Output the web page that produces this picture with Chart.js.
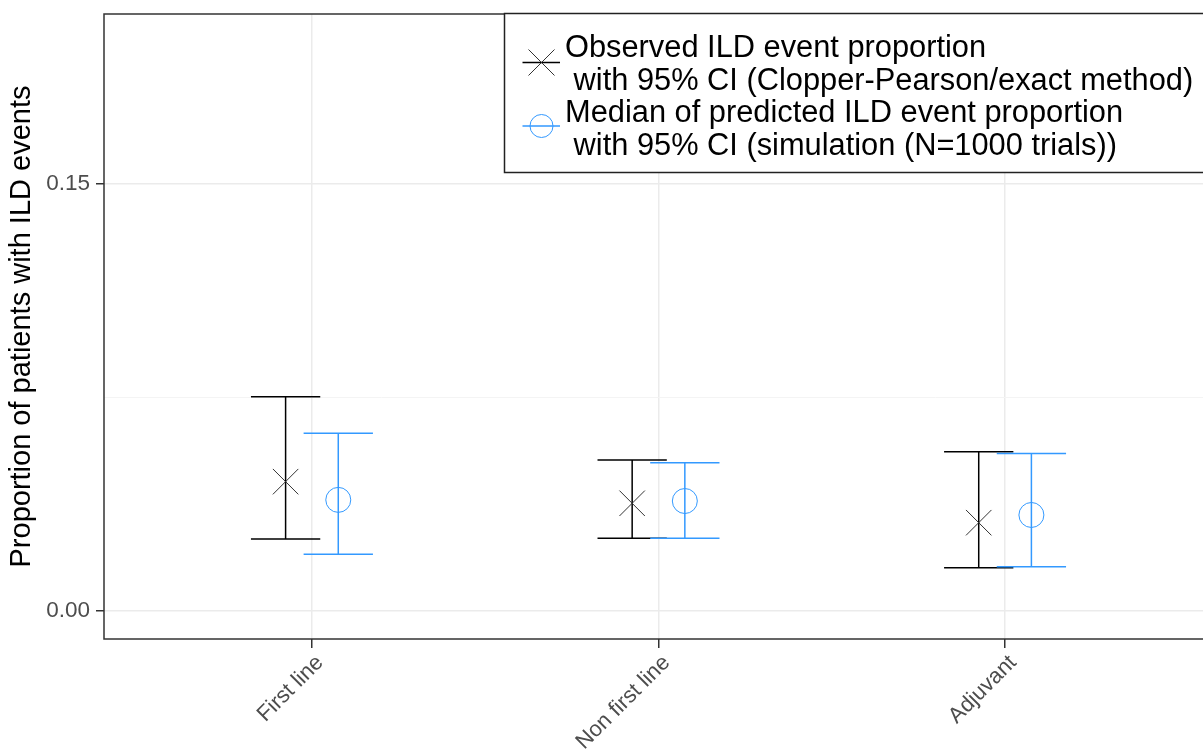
<!DOCTYPE html>
<html>
<head>
<meta charset="utf-8">
<title>Observed vs predicted ILD event proportion</title>
<script src="https://cdn.jsdelivr.net/npm/chart.js@4.4.1/dist/chart.umd.min.js"></script>
<style>
  html, body { margin: 0; padding: 0; background: #fff; overflow: hidden; }
  #wrap { width: 1203px; height: 751px; overflow: hidden; position: relative; }
  canvas { display: block; }
</style>
</head>
<body>
<div id="wrap"><canvas id="ildChart" width="1230" height="751"></canvas></div>
<script>
const categories = ['First line', 'Non first line', 'Adjuvant'];

// observed proportion, Clopper-Pearson 95% CI
const observed = [0.0453, 0.0377, 0.0309];
const observedLower = [0.0252, 0.0254, 0.0151];
const observedUpper = [0.0751, 0.0529, 0.0558];

// median of predicted proportion, simulated 95% CI
const predicted = [0.0389, 0.0385, 0.0336];
const predictedLower = [0.0198, 0.0254, 0.0154];
const predictedUpper = [0.0623, 0.0519, 0.0552];

const yTickValues = [0, 0.075, 0.15];
const yTickLabels = ['0.00', '', '0.15'];

const legendEntries = [
    ['Observed ILD event proportion', ' with 95% CI (Clopper-Pearson/exact method)'],
    ['Median of predicted ILD event proportion', ' with 95% CI (simulation (N=1000 trials))']
];

const FONT = '"Liberation Sans", Arial, Helvetica, sans-serif';
const BLUE = '#3399FF';
const dodge = 0.076;
const capHalf = 0.1;

function toPoints(values, lower, upper, shift) {
    return values.map((v, i) => ({ x: i + 1 + shift, y: v, lo: lower[i], hi: upper[i] }));
}

const errorBars = {
    id: 'errorBars',
    beforeDatasetsDraw(chart) {
        const { ctx, scales: { x, y } } = chart;
        chart.data.datasets.forEach(ds => {
            ctx.save();
            ctx.strokeStyle = ds.barColor;
            ctx.lineWidth = 1.5;
            ds.data.forEach(p => {
                const px = x.getPixelForValue(p.x);
                const half = x.getPixelForValue(p.x + capHalf) - px;
                const yLo = y.getPixelForValue(p.lo);
                const yHi = y.getPixelForValue(p.hi);
                ctx.beginPath();
                ctx.moveTo(px, yLo); ctx.lineTo(px, yHi);
                ctx.moveTo(px - half, yLo); ctx.lineTo(px + half, yLo);
                ctx.moveTo(px - half, yHi); ctx.lineTo(px + half, yHi);
                ctx.stroke();
            });
            ctx.restore();
        });
    }
};

const frameAndLegend = {
    id: 'frameAndLegend',
    afterDraw(chart) {
        const { ctx, chartArea: a } = chart;
        ctx.save();
        // panel border
        ctx.strokeStyle = '#333';
        ctx.lineWidth = 1.5;
        ctx.strokeRect(a.left, a.top, a.right - a.left, a.bottom - a.top);

        // legend box
        const bx = 504.5, by = 13.5, bh = 159;
        ctx.fillStyle = '#fff';
        ctx.fillRect(bx, by, a.right - bx, bh);
        ctx.strokeStyle = '#222';
        ctx.lineWidth = 1.5;
        ctx.strokeRect(bx, by, a.right - bx, bh);

        // keys
        const kx = 541.5;
        ctx.lineWidth = 1.5;
        ctx.strokeStyle = '#000';
        ctx.beginPath(); ctx.moveTo(522.5, 62.5); ctx.lineTo(560, 62.5); ctx.stroke();
        ctx.lineWidth = 1;
        ctx.strokeStyle = '#333';
        ctx.beginPath();
        ctx.moveTo(kx - 13, 49.5); ctx.lineTo(kx + 13, 75.5);
        ctx.moveTo(kx + 13, 49.5); ctx.lineTo(kx - 13, 75.5);
        ctx.stroke();

        ctx.lineWidth = 1.5;
        ctx.strokeStyle = BLUE;
        ctx.beginPath(); ctx.moveTo(522.5, 126); ctx.lineTo(560, 126); ctx.stroke();
        ctx.lineWidth = 1;
        ctx.beginPath(); ctx.arc(kx, 126, 11.5, 0, Math.PI * 2); ctx.stroke();

        // labels
        ctx.fillStyle = '#000';
        ctx.font = '30.8px ' + FONT;
        ctx.textBaseline = 'alphabetic';
        ctx.textAlign = 'left';
        const baselines = [[57, 90], [122, 155]];
        legendEntries.forEach((lines, i) => {
            lines.forEach((t, j) => ctx.fillText(t, 565, baselines[i][j]));
        });
        ctx.restore();
    }
};

const ctx = document.getElementById('ildChart');

new Chart(ctx, {
    type: 'scatter',
    data: {
        datasets: [
            {
                label: 'Observed',
                data: toPoints(observed, observedLower, observedUpper, -dodge),
                pointStyle: 'crossRot',
                pointRadius: 18,
                borderColor: '#333',
                borderWidth: 1,
                barColor: '#000'
            },
            {
                label: 'Predicted',
                data: toPoints(predicted, predictedLower, predictedUpper, dodge),
                pointStyle: 'circle',
                pointRadius: 12.5,
                borderColor: BLUE,
                backgroundColor: 'rgba(0,0,0,0)',
                borderWidth: 1,
                barColor: BLUE
            }
        ]
    },
    options: {
        responsive: false,
        animation: false,
        events: [],
        layout: { autoPadding: false, padding: { left: 0, top: 14, right: 17, bottom: 0 } },
        plugins: {
            legend: { display: false },
            tooltip: { enabled: false }
        },
        scales: {
            x: {
                type: 'linear',
                min: 0.4,
                max: 3.6,
                afterBuildTicks: scale => { scale.ticks = categories.map((c, i) => ({ value: i + 1 })); },
                afterFit: scale => { scale.height = 112; },
                ticks: {
                    minRotation: 45,
                    maxRotation: 45,
                    padding: 2,
                    labelOffset: 8,
                    color: '#4D4D4D',
                    font: { family: FONT, size: 22 },
                    callback: v => categories[v - 1]
                },
                grid: {
                    color: '#EBEBEB',
                    lineWidth: 1.5,
                    tickColor: '#333',
                    tickLength: 9
                },
                border: { display: false }
            },
            y: {
                min: -0.00993,
                max: 0.20944,
                afterBuildTicks: scale => { scale.ticks = yTickValues.map(v => ({ value: v })); },
                afterFit: scale => { scale.width = 104; },
                ticks: {
                    padding: 6,
                    color: '#4D4D4D',
                    // small lineHeight so the top label does not push the plot down
                    font: { family: FONT, size: 22.5, lineHeight: 0.6 },
                    callback: (v, i) => yTickLabels[i]
                },
                grid: {
                    color: c => (yTickLabels[c.index] ? '#EBEBEB' : '#F4F4F4'),
                    lineWidth: c => (yTickLabels[c.index] ? 1.5 : 1),
                    tickColor: c => (yTickLabels[c.index] ? '#333' : 'rgba(0,0,0,0)'),
                    tickLength: 8
                },
                border: { display: false },
                title: {
                    display: true,
                    text: 'Proportion of patients with ILD events',
                    color: '#000',
                    font: { family: FONT, size: 29 },
                    padding: { top: 5, bottom: 0 }
                }
            }
        }
    },
    plugins: [errorBars, frameAndLegend]
});
</script>
</body>
</html>
